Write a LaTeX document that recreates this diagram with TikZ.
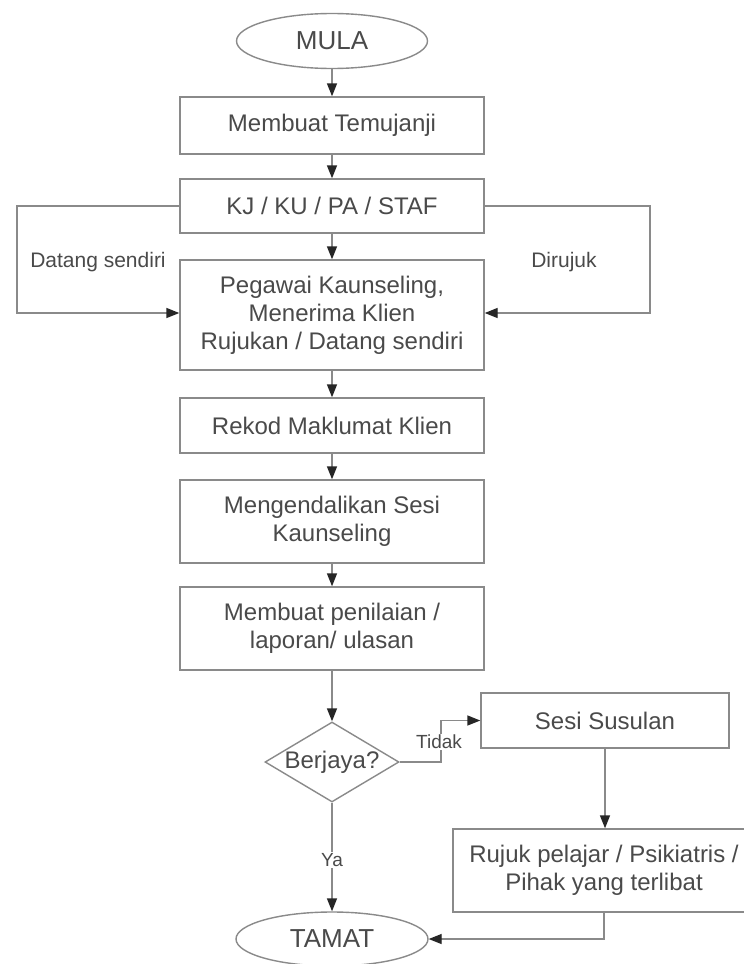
\documentclass[tikz,border=0pt]{standalone}
\usepackage{fontspec}
\setmainfont{Liberation Sans}
\usetikzlibrary{shapes.geometric,arrows.meta}
\definecolor{linegray}{HTML}{8A8A8A}
\definecolor{textgray}{HTML}{4A4A4A}
\definecolor{tipgray}{HTML}{262626}
\begin{document}
\begin{tikzpicture}[x=1pt,y=-1pt,
  every node/.style={text=textgray},
  stepbox/.style={draw=linegray,line width=1.4pt,rectangle,minimum width=304pt,inner sep=0pt,align=center,font=\fontsize{24}{28}\selectfont},
  term/.style={draw=linegray,line width=1.4pt,ellipse,inner sep=0pt,font=\fontsize{26}{30}\selectfont},
  decide/.style={draw=linegray,line width=1.4pt,diamond,aspect=1.675,inner sep=0pt,minimum width=134pt,minimum height=80pt,font=\fontsize{24}{28}\selectfont},
  arr/.style={draw=linegray,line width=1.4pt,-{Triangle[length=13pt,width=10pt,color=tipgray,fill=tipgray]}},
  lbl/.style={font=\fontsize{21}{24}\selectfont},
  slbl/.style={font=\fontsize{19}{22}\selectfont,fill=white,inner sep=1pt}]
\clip (0,0) rectangle (744,964);
\fill[white] (0,0) rectangle (744,964);

\node[term,minimum width=191pt,minimum height=55pt] (mula) at (332,41) {MULA};
\node[stepbox,minimum height=57pt] (b1) at (332,125.5) {Membuat Temujanji};
\node[stepbox,minimum height=54pt] (b2) at (332,206) {KJ / KU / PA / STAF};
\node[stepbox,minimum height=110pt] (b3) at (332,315) {Pegawai Kaunseling,\\Menerima Klien\\Rujukan / Datang sendiri};
\node[stepbox,minimum height=55pt] (b4) at (332,425.5) {Rekod Maklumat Klien};
\node[stepbox,minimum height=83pt] (b5) at (332,521.5) {Mengendalikan Sesi\\Kaunseling};
\node[stepbox,minimum height=83pt] (b6) at (332,628.5) {Membuat penilaian /\\laporan/ ulasan};
\node[decide] (dec) at (332,762) {Berjaya?};
\node[stepbox,minimum width=248pt,minimum height=55pt] (sesi) at (605,720.5) {Sesi Susulan};
\node[stepbox,minimum width=302pt,minimum height=83pt] (rujuk) at (604,870.5) {Rujuk pelajar / Psikiatris /\\Pihak yang terlibat};
\node[term,minimum width=192pt,minimum height=54pt] (tamat) at (332,939) {TAMAT};

\coordinate (l1) at (17,206);
\coordinate (l2) at (17,313);
\coordinate (r1) at (650,206);
\coordinate (r2) at (650,313);
\coordinate (t1) at (441,762);
\coordinate (u1) at (604,939);

\draw[arr] (mula) -- (b1);
\draw[arr] (b1) -- (b2);
\draw[arr] (b2) -- (b3);
\draw[arr] (b2.west) -- (l1) -- (l2) -- (b3.west |- l2);
\draw[arr] (b2.east) -- (r1) -- (r2) -- (b3.east |- r2);
\draw[arr] (b3) -- (b4);
\draw[arr] (b4) -- (b5);
\draw[arr] (b5) -- (b6);
\draw[arr] (b6) -- (dec);
\draw[arr] (dec.east) -- (t1) |- (sesi.west);
\draw[arr] (sesi.south) -- (sesi.south |- rujuk.north);
\draw[arr] (rujuk.south) -- (u1) -- (tamat.east);
\draw[arr] (dec.south) -- (tamat.north);

\node[lbl] (ds) at (98,262) {Datang sendiri};
\node[lbl] (dr) at (564,262) {Dirujuk};
\node[slbl] (tidak) at (439,742) {Tidak};
\node[slbl] (ya) at (332,860) {Ya};
\end{tikzpicture}
\end{document}
